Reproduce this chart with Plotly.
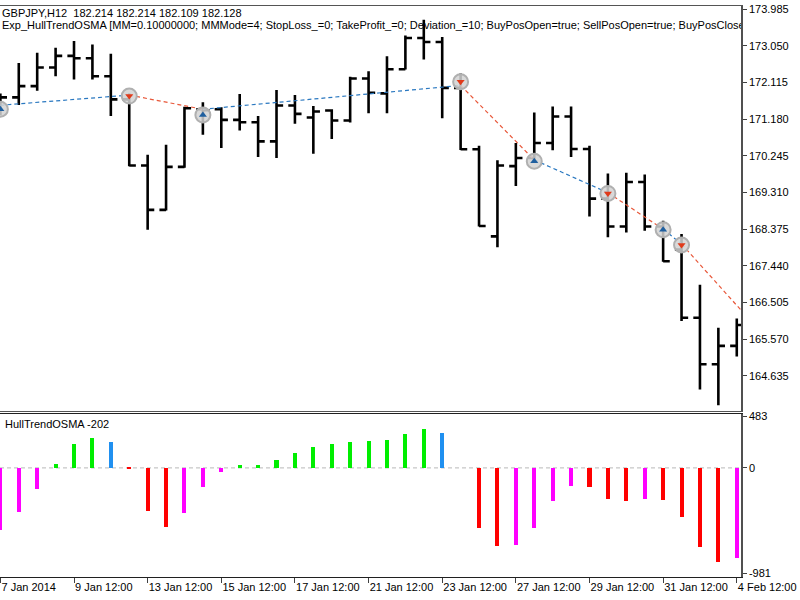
import plotly.graph_objects as go

# ---------------- data ----------------
bar_index = list(range(41))

open_ = [171.385, 171.740, 172.026, 172.500, 172.797, 172.736, 172.280, 171.689, 169.999, 168.869,
         169.966, 171.436, 171.436, 171.165, 171.106, 170.617, 171.530, 171.225, 171.403, 171.149,
         172.221, 171.841, 172.457, 173.253, 173.151, 171.981, 170.415, 168.192, 169.984, 170.194,
         170.574, 171.251, 170.422, 169.155, 168.445, 169.578, 168.445, 167.855, 166.114, 164.931,
         165.397]
high = [171.841, 172.619, 172.880, 173.007, 173.177, 173.091, 172.855, 171.841, 170.278, 170.531,
        171.499, 171.613, 171.486, 171.824, 171.266, 171.925, 171.798, 171.519, 171.436, 172.264,
        172.406, 172.787, 173.319, 173.717, 173.278, 172.348, 170.506, 170.136, 170.574, 171.352,
        171.504, 171.504, 170.506, 169.796, 169.814, 169.771, 168.590, 168.250, 166.958, 165.861,
        166.096]
low = [171.284, 171.545, 171.910, 172.280, 172.196, 172.196, 171.266, 169.979, 168.362, 168.851,
       169.941, 170.785, 170.447, 170.896, 170.219, 170.194, 171.063, 170.303, 170.676, 171.099,
       171.334, 171.334, 172.449, 172.703, 171.208, 170.397, 168.445, 167.913, 169.477, 170.067,
       170.389, 170.219, 168.699, 168.167, 168.293, 168.336, 167.546, 166.030, 164.282, 163.884,
       165.126]
close = [171.740, 172.026, 172.500, 172.797, 172.736, 172.280, 171.689, 169.999, 168.869, 169.966,
         171.461, 171.410, 171.165, 171.106, 170.617, 171.530, 171.317, 171.378, 171.149, 172.221,
         171.859, 172.457, 173.253, 173.151, 171.981, 170.415, 168.458, 169.999, 170.194, 170.574,
         171.251, 170.422, 169.155, 168.445, 169.578, 168.445, 167.558, 166.114, 164.931, 165.397,
         165.929]

osma = [-581, -416, -195, 39, 219, 274, 241, -10, -406, -554,
        -425, -182, -35, 29, 29, 69, 136, 198, 219, 241,
        253, 262, 315, 366, 324, 0, -563, -731, -719, -563,
        -308, -170, -182, -290, -308, -290, -299, -458, -743, -881,
        -839]
osma_state = ['M', 'M', 'M', 'G', 'G', 'G', 'B', 'R', 'R', 'R',
              'M', 'M', 'M', 'G', 'G', 'G', 'G', 'G', 'G', 'G',
              'G', 'G', 'G', 'G', 'B', 'R', 'R', 'R', 'M', 'M',
              'M', 'M', 'R', 'R', 'R', 'M', 'R', 'R', 'R', 'R',
              'M']

buy_bars = [0, 11, 29, 36]
buy_marks = [171.436, 171.291, 170.110, 168.362]
sell_bars = [7, 25, 33, 37]
sell_marks = [171.773, 172.138, 169.289, 167.972]

deal_bars = [0, 7, 11, 25, 29, 33, 36, 37, 42]
deal_prices = [171.537, 171.798, 171.436, 172.044, 170.143, 169.307, 168.377, 167.997, 165.387]
segment_side = ['buy', 'sell', 'buy', 'sell', 'buy', 'sell', 'buy', 'sell']

price_ticks = [173.985, 173.050, 172.115, 171.180, 170.245, 169.310, 168.375, 167.440, 166.505, 165.570, 164.635]
osma_ticks = [483, 0, -981]
time_tick_bars = [0, 4, 8, 12, 16, 20, 24, 28, 32, 36, 40]
time_tick_text = ['7 Jan 2014', '9 Jan 12:00', '13 Jan 12:00', '15 Jan 12:00', '17 Jan 12:00',
                  '21 Jan 12:00', '23 Jan 12:00', '27 Jan 12:00', '29 Jan 12:00', '31 Jan 12:00',
                  '4 Feb 12:00']

header_line1 = 'GBPJPY,H12  182.214 182.214 182.109 182.128'
header_line2 = ('Exp_HullTrendOSMA [MM=0.10000000; MMMode=4; StopLoss_=0; TakeProfit_=0; Deviation_=10; '
                'BuyPosOpen=true; SellPosOpen=true; BuyPosClose=true; SellPosClose=true]')
indicator_label = 'HullTrendOSMA -202'

# ---------------- style ----------------
FONT = 'Liberation Sans, Arial, sans-serif'
X_RANGE = [-0.02, 40.23]
P_RANGE = [163.732, 174.071]
O_RANGE = [-1018, 501.5]
PX_PER_BAR = 741 / (X_RANGE[1] - X_RANGE[0])
state_colors = {'G': '#00ee00', 'B': '#2090f0', 'R': '#ff0000', 'M': '#ff00ff'}
side_colors = {'buy': '#2a78c0', 'sell': '#e8583a'}

fig = go.Figure()

fig.add_trace(go.Ohlc(
    x=bar_index, open=open_, high=high, low=low, close=close,
    increasing=dict(line=dict(color='black', width=2.6)),
    decreasing=dict(line=dict(color='black', width=2.6)),
    tickwidth=0.36, hoverinfo='skip', xaxis='x', yaxis='y', showlegend=False))

for i, side in enumerate(segment_side):
    fig.add_trace(go.Scatter(
        x=[deal_bars[i], deal_bars[i + 1]], y=[deal_prices[i], deal_prices[i + 1]],
        mode='lines', line=dict(color=side_colors[side], width=1.2, dash='4px,3px'),
        hoverinfo='skip', showlegend=False, xaxis='x', yaxis='y'))

fig.add_trace(go.Scatter(
    x=buy_bars + sell_bars, y=buy_marks + sell_marks, mode='markers',
    marker=dict(symbol='circle', size=15, color='rgba(210,210,210,0.85)',
                line=dict(color='#b0b0b0', width=2)),
    hoverinfo='skip', showlegend=False, xaxis='x', yaxis='y'))
fig.add_trace(go.Scatter(
    x=buy_bars, y=buy_marks, mode='markers',
    marker=dict(symbol='triangle-up', size=7, color='#1f5f9f'),
    hoverinfo='skip', showlegend=False, xaxis='x', yaxis='y'))
fig.add_trace(go.Scatter(
    x=sell_bars, y=sell_marks, mode='markers',
    marker=dict(symbol='triangle-down', size=7, color='#e03a1a'),
    hoverinfo='skip', showlegend=False, xaxis='x', yaxis='y'))

# header text, clipped at the plot edge like the terminal does
p_span = P_RANGE[1] - P_RANGE[0]
fig.add_trace(go.Scatter(
    x=[X_RANGE[0] + 2 / PX_PER_BAR] * 2,
    y=[P_RANGE[1] - p_span * 8 / 408, P_RANGE[1] - p_span * 20.5 / 408],
    mode='text', text=[header_line1, header_line2], textposition='middle right',
    textfont=dict(family=FONT, size=11, color='black'), cliponaxis=True,
    hoverinfo='skip', showlegend=False, xaxis='x', yaxis='y'))

fig.add_trace(go.Bar(
    x=bar_index, y=osma, marker=dict(color=[state_colors[s] for s in osma_state], line=dict(width=0)),
    width=0.22, hoverinfo='skip', showlegend=False, xaxis='x2', yaxis='y2'))

H_PLOT = 578
fig.update_layout(
    width=800, height=600,
    margin=dict(l=0, r=59, t=0, b=22),
    paper_bgcolor='white', plot_bgcolor='white',
    font=dict(family=FONT, size=11, color='black'),
    showlegend=False,
    bargap=0,
    xaxis=dict(domain=[0, 1], range=X_RANGE, anchor='y', showticklabels=False, ticks='',
               showline=True, mirror=True, linecolor='#555555', linewidth=1.2,
               showgrid=False, zeroline=False, rangeslider=dict(visible=False)),
    yaxis=dict(domain=[1 - 410 / H_PLOT, 1 - 2 / H_PLOT], range=P_RANGE, anchor='x', side='right',
               tickvals=price_ticks, ticktext=[f'{v:.3f}' for v in price_ticks],
               ticks='outside', ticklen=4, tickcolor='#404040', showline=True,
               linecolor='#505050', linewidth=1.5, showgrid=False, zeroline=False,
               tickfont=dict(family=FONT, size=11, color='black')),
    xaxis2=dict(domain=[0, 1], range=X_RANGE, anchor='y2', tickvals=time_tick_bars,
                ticktext=time_tick_text, ticks='outside', ticklen=5, tickcolor='#404040',
                ticklabelposition='outside right', showline=True, mirror=True,
                linecolor='#202020', linewidth=1.2, showgrid=False, zeroline=False,
                tickfont=dict(family=FONT, size=11, color='black')),
    yaxis2=dict(domain=[1 - 577 / H_PLOT, 1 - 413 / H_PLOT], range=O_RANGE, anchor='x2', side='right',
                tickvals=osma_ticks, ticktext=[str(v) for v in osma_ticks],
                ticks='outside', ticklen=4, tickcolor='#404040', showline=True,
                linecolor='#505050', linewidth=1.5, showgrid=False, zeroline=False,
                tickfont=dict(family=FONT, size=11, color='black')),
    shapes=[dict(type='line', xref='x2 domain', yref='y2', x0=0, x1=1, y0=0, y1=0,
                 line=dict(color='#b8b8b8', width=1, dash='4px,3px'), layer='below')],
    annotations=[dict(text=indicator_label, xref='paper', yref='paper', x=0.004, y=1 - 423 / H_PLOT,
                      xanchor='left', yanchor='middle', showarrow=False,
                      font=dict(family=FONT, size=11, color='black'))],
)

fig.write_html('out.html')
